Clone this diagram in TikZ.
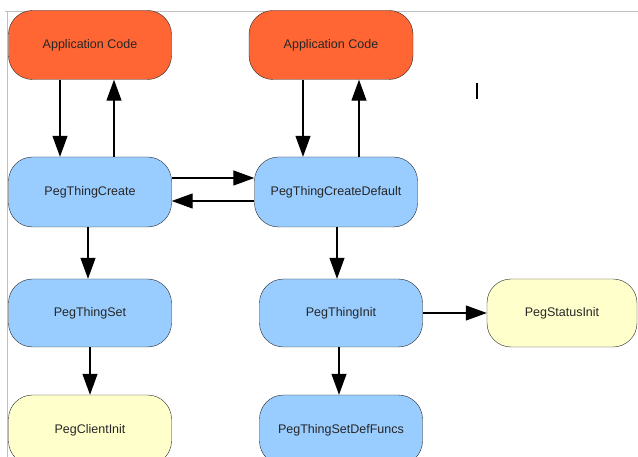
\documentclass[tikz,border=0pt]{standalone}
\usepackage{fontspec}
\setmainfont{Liberation Sans}
\usetikzlibrary{arrows.meta}
\definecolor{laranja}{HTML}{FF6633}
\definecolor{azul}{HTML}{99CCFF}
\definecolor{amarelo}{HTML}{FFFFCC}
\begin{document}
\begin{tikzpicture}[x=1pt, y=-1pt,
  every node/.style={draw=black!85, rounded corners=24pt, minimum width=163pt,
    minimum height=69pt, inner sep=0pt, text=black!85,
    font=\fontsize{12.5}{14}\selectfont},
  seta/.style={-{Triangle[length=21pt, width=15pt]}, line width=1.2pt}
]
\tikzset{
  codigo/.style={fill=laranja},
  funcao/.style={fill=azul},
  inicio/.style={fill=amarelo}
}
\useasboundingbox (0,0) rectangle (638,457);
\clip (0,0) rectangle (638,457);

\draw[black!25] (5,11) -- (638,11);
\draw[black!25] (7.5,11) -- (7.5,457);

\node[codigo] (app1) at (90,45) {Application Code};
\node[codigo, minimum width=164pt] (app2) at (331,45) {Application Code};
\node[funcao, minimum height=70pt] (create) at (90,192) {PegThingCreate};
\node[funcao, minimum height=70pt] (default) at (336,192) {PegThingCreateDefault};
\node[funcao, minimum height=68pt] (set) at (90,313) {PegThingSet};
\node[inicio, minimum height=70pt] (client) at (90,430) {PegClientInit};
\node[funcao, minimum height=68pt] (tinit) at (341,313) {PegThingInit};
\node[inicio, minimum width=150pt, minimum height=68pt] (status) at (562,313) {PegStatusInit};
\node[funcao, minimum height=70pt] (deffuncs) at (341,430) {PegThingSetDefFuncs};

\draw[seta] ([xshift=-30pt]app1.south) -- ([xshift=-30pt]create.north);
\draw[seta] ([xshift=24pt]create.north) -- ([xshift=24pt]app1.south);
\draw[seta] ([xshift=-28pt]app2.south) -- ([xshift=-33pt]default.north);
\draw[seta] ([xshift=23pt]default.north) -- ([xshift=28pt]app2.south);
\draw[seta] ([yshift=14pt]create.east) -- ([yshift=14pt]default.west);
\draw[seta] ([yshift=-9pt]default.west) -- ([yshift=-9pt]create.east);
\draw[seta] ([xshift=-2pt]create.south) -- ([xshift=-2pt]set.north);
\draw[seta] (set) -- (client);
\draw[seta] ([xshift=1pt]default.south) -- ([xshift=-4pt]tinit.north);
\draw[seta] (tinit) -- (status);
\draw[seta] ([xshift=-2pt]tinit.south) -- ([xshift=-2pt]deffuncs.north);

% cursor
\draw[line width=1.5pt] (477,83) -- (477,99);
\end{tikzpicture}
\end{document}
